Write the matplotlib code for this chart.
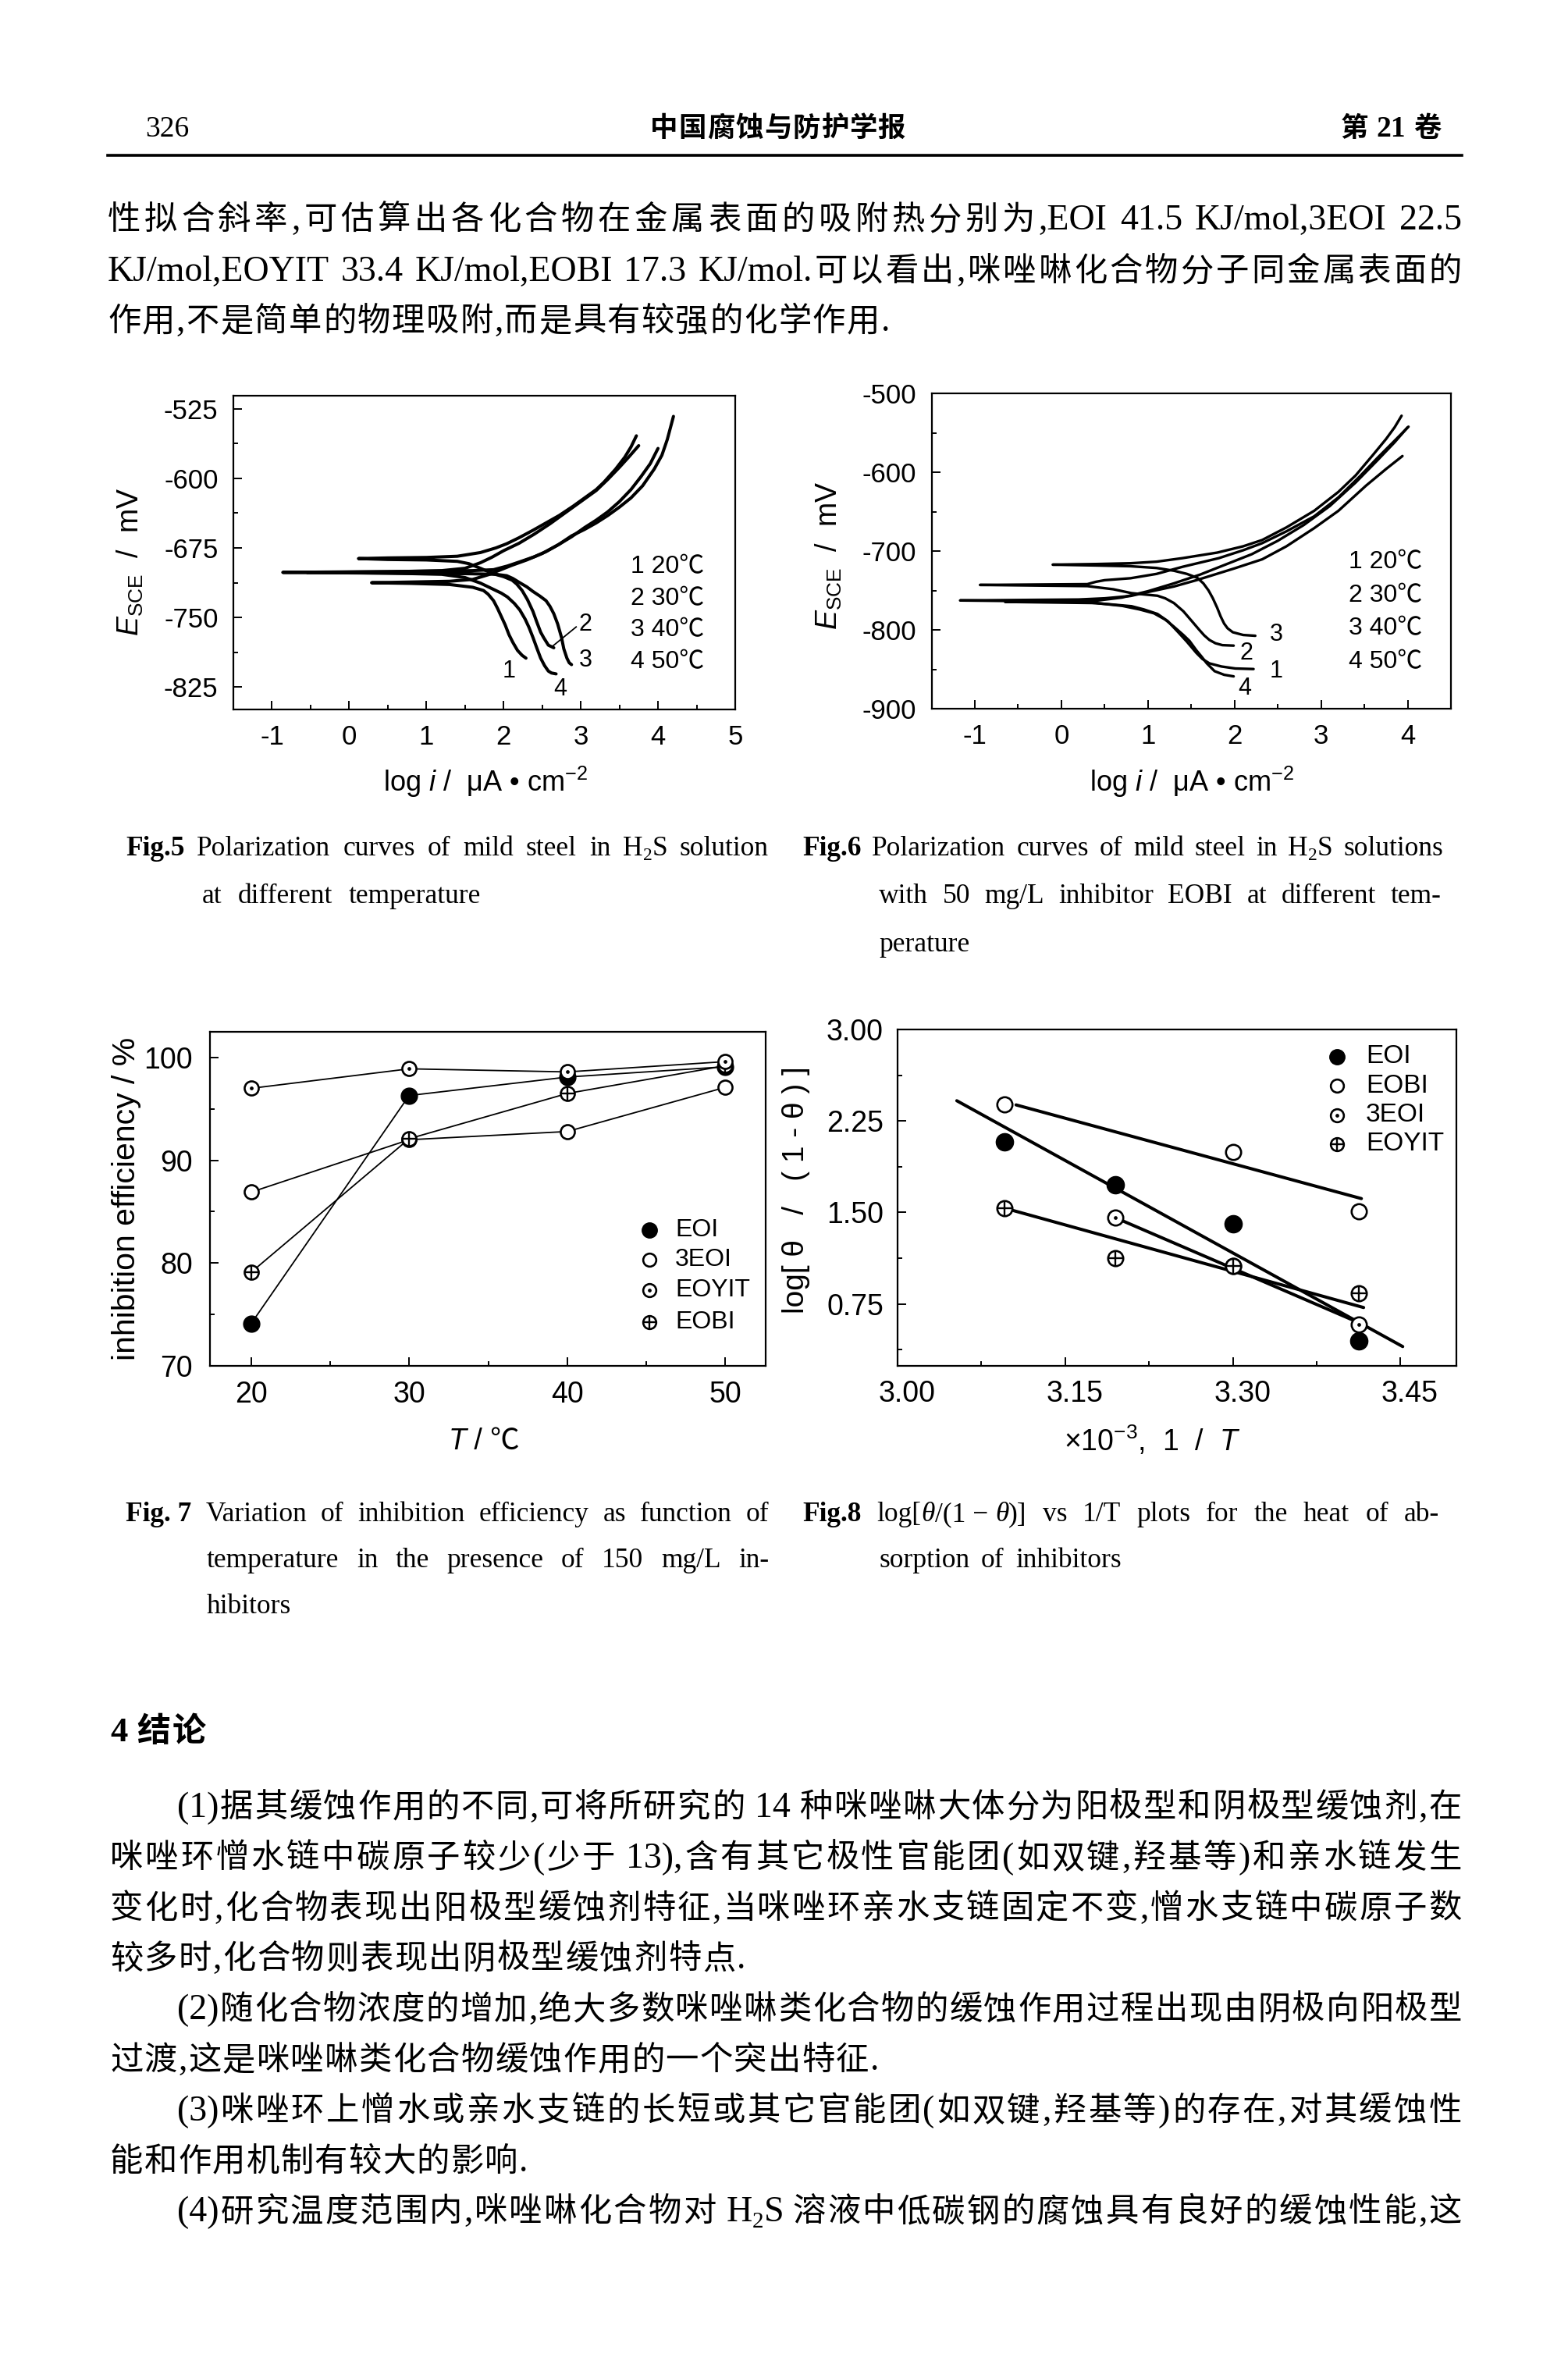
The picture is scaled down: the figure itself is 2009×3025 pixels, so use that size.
import matplotlib
matplotlib.use("Agg")
import matplotlib.pyplot as plt
from matplotlib.font_manager import FontProperties
from matplotlib.ticker import MultipleLocator
from matplotlib.lines import Line2D
import matplotlib.transforms as mtransforms

W, H, DPI = 2009, 3025, 100

# ---------------------------------------------------------------- text data
header_left = "326"
header_center = "中国腐蚀与防护学报"
header_right = "第21卷"
para_lines = [
    "性拟合斜率,可估算出各化合物在金属表面的吸附热分别为,EOI 41.5 KJ/mol,3EOI 22.5",
    "KJ/mol,EOYIT 33.4 KJ/mol,EOBI 17.3 KJ/mol.可以看出,咪唑啉化合物分子同金属表面的",
    "作用,不是简单的物理吸附,而是具有较强的化学作用.",
]
para_right = [1873, 1873, 1140]
cap5 = ["Fig.5 Polarization curves of mild steel in H₂S solution",
        "at different temperature"]
cap6 = ["Fig.6 Polarization curves of mild steel in H₂S solutions",
        "with 50 mg/L inhibitor EOBI at different tem-",
        "perature"]
cap7 = ["Fig.\u00a07 Variation of inhibition efficiency as function of",
        "temperature in the presence of 150 mg/L in-",
        "hibitors"]
cap8 = ["Fig.8 log[θ/(1\u00a0−\u00a0θ)] vs 1/T plots for the heat of ab-",
        "sorption of inhibitors"]
concl_title = "4 结论"
concl_lines = [
    "(1)据其缓蚀作用的不同,可将所研究的 14 种咪唑啉大体分为阳极型和阴极型缓蚀剂,在",
    "咪唑环憎水链中碳原子较少(少于 13),含有其它极性官能团(如双键,羟基等)和亲水链发生",
    "变化时,化合物表现出阳极型缓蚀剂特征,当咪唑环亲水支链固定不变,憎水支链中碳原子数",
    "较多时,化合物则表现出阴极型缓蚀剂特点.",
    "(2)随化合物浓度的增加,绝大多数咪唑啉类化合物的缓蚀作用过程出现由阴极向阳极型",
    "过渡,这是咪唑啉类化合物缓蚀作用的一个突出特征.",
    "(3)咪唑环上憎水或亲水支链的长短或其它官能团(如双键,羟基等)的存在,对其缓蚀性",
    "能和作用机制有较大的影响.",
    "(4)研究温度范围内,咪唑啉化合物对 H₂S 溶液中低碳钢的腐蚀具有良好的缓蚀性能,这",
]
concl_indent = [True, False, False, False, True, False, True, False, True]
concl_right = [1873, 1873, 1873, 955, 1873, 1126, 1873, 676, 1873]

# ---------------------------------------------------------------- Fig.5 data
f5_legend = ["1 20℃", "2 30℃", "3 40℃", "4 50℃"]
f5_xticks = [-1, 0, 1, 2, 3, 4, 5]
f5_yticks = [-525, -600, -675, -750, -825]
f5_x = [
    [2.65, 2.58, 2.52, 2.48, 2.43, 2.38, 2.31, 2.24, 2.17, 2.11, 2.0, 1.87, 1.7, 1.55, 1.4, 1.0, 0.5,
     0.12,
     0.5, 1.0, 1.4, 1.70, 1.9, 2.04, 2.2, 2.38, 2.55, 2.72, 2.9, 3.05, 3.2, 3.3, 3.45, 3.57, 3.65, 3.72],
    [2.88, 2.85, 2.82, 2.78, 2.75, 2.70, 2.65, 2.6, 2.55, 2.47, 2.38, 2.3, 2.21, 2.12, 2.04, 1.9, 1.5, 0.5,
     -0.86,
     0.5, 1.2, 1.6, 1.87, 2.05, 2.21, 2.4, 2.55, 2.72, 2.88, 3.05, 3.2, 3.35, 3.5, 3.65, 3.8, 3.95, 4.05, 4.12, 4.2],
    [2.68, 2.62, 2.58, 2.53, 2.48, 2.43, 2.38, 2.33, 2.28, 2.21, 2.14, 2.05, 1.97, 1.85, 1.7, 1.5, 1.2, 0.5,
     -0.55,
     0.5, 1.2, 1.5, 1.7, 1.85, 2.0, 2.2, 2.4, 2.6, 2.8, 3.0, 3.2, 3.35, 3.5, 3.62, 3.75],
    [2.29, 2.24, 2.18, 2.12, 2.07, 2.02, 1.97, 1.92, 1.87, 1.8, 1.74, 1.6, 1.3, 0.8,
     0.29,
     0.8, 1.3, 1.6, 1.8, 1.95, 2.1, 2.3, 2.5, 2.7, 2.88, 3.05, 3.2, 3.35, 3.5, 3.65, 3.78, 3.9, 4.0],
]
f5_y = [
    [-782.8, -780, -772, -766, -755, -743.5, -731, -721, -714, -709.8, -706, -703, -697, -692, -689.5, -688, -687.5,
     -686.5,
     -685.8, -685.3, -684, -680, -675, -670.5, -664, -656, -648, -640, -630, -621, -612, -604, -590, -577, -566, -554],
    [-801, -799, -794, -784, -771.6, -757, -746, -738, -732, -727, -722, -717, -712.6, -708, -705, -703.5, -702.8, -702.3,
     -701.4,
     -700.5, -700, -699.5, -698.5, -694.5, -690, -684.5, -679, -671, -662, -655, -648, -640, -631, -621, -608, -590, -575, -558, -533],
    [-811, -810, -808, -802, -794, -783, -771.6, -761, -752, -742, -735, -728, -723.8, -719, -713, -707, -703.5, -702.2,
     -701.4,
     -700.8, -699.5, -697, -691, -685, -678, -670, -660, -649, -637, -625, -613, -601, -588, -577, -564.6],
    [-794, -791, -785.6, -777, -768.7, -758, -749, -740, -732, -725, -721, -717.5, -714.5, -713.3,
     -712.6,
     -711.8, -711, -709, -704, -699, -694, -688, -681, -672, -663, -653, -645, -636, -625, -612, -598, -584, -567.6],
]
f5_curve_labels = ["1", "4", "2", "3"]
f5_label_x = [2.07, 2.73, 3.06, 3.06]
f5_label_y = [-808, -827.5, -757.5, -796]
f5_pointer_x = [2.63, 2.94]
f5_pointer_y = [-781.4, -760.3]

# ---------------------------------------------------------------- Fig.6 data
f6_legend = ["1 20℃", "2 30℃", "3 40℃", "4 50℃"]
f6_xticks = [-1, 0, 1, 2, 3, 4]
f6_yticks = [-500, -600, -700, -800, -900]
f6_x = [
    [2.24, 2.1, 1.98, 1.92, 1.88, 1.84, 1.8, 1.75, 1.7, 1.64, 1.57, 1.45, 1.3, 1.1, 0.8, 0.4,
     -0.10,
     0.4, 0.8, 1.1, 1.4, 1.8, 2.1, 2.32, 2.6, 2.92, 3.2, 3.4, 3.6, 3.75, 3.85, 3.93],
    [1.99, 1.86, 1.78, 1.71, 1.65, 1.59, 1.5, 1.41, 1.3, 1.2, 1.11, 0.95, 0.81, 0.6, 0.3,
     -0.94,
     0.3, 0.4, 0.5, 0.8, 1.1, 1.4, 1.82, 2.1, 2.32, 2.6, 2.92, 3.2, 3.45, 3.65, 3.85, 4.01],
    [2.22, 2.01, 1.85, 1.71, 1.63, 1.56, 1.45, 1.35, 1.23, 1.11, 0.95, 0.81, 0.5, 0.2,
     -1.17,
     0.2, 0.5, 0.8, 1.0, 1.3, 1.56, 2.0, 2.32, 2.6, 2.92, 3.2, 3.52, 3.75, 3.94],
    [1.99, 1.88, 1.77, 1.68, 1.62, 1.56, 1.48, 1.41, 1.3, 1.2, 1.07, 0.9, 0.7, 0.4,
     -0.65,
     0.4, 0.7, 1.0, 1.3, 1.6, 1.9, 2.2, 2.5, 2.8, 3.1, 3.4, 3.65, 3.85, 4.0],
]
f6_y = [
    [-807.5, -806.5, -803, -798, -792, -783, -772, -760, -750, -741, -734, -729, -725, -721.5, -719.3, -718.3,
     -717.3,
     -716.5, -715.5, -713.5, -709, -702, -694, -686, -670, -649, -625, -604, -578, -558, -543, -528.4],
    [-820, -819.4, -817, -812.8, -807, -799.6, -788, -776.5, -766, -760, -756.7, -755, -753.4, -748.5, -744.5,
     -743,
     -742, -739, -737, -734.5, -729, -720, -709, -699, -690, -675, -656, -632, -605, -582, -560, -542.3],
    [-849.7, -849, -846.5, -842.5, -837, -829.3, -815, -803, -789, -779.8, -774, -770, -767, -764.3,
     -762.7,
     -761.5, -760, -757, -752, -745, -737, -722, -710.5, -694, -671, -649, -617, -596, -579.5],
    [-859, -857, -852.4, -842.5, -834, -826, -814, -806.6, -796, -787, -779, -774, -769.5, -766,
     -764.5,
     -763, -759, -751, -741, -730, -717, -704, -687, -667, -643, -613, -585, -562, -543],
]
f6_curve_labels = ["3", "2", "1", "4"]
f6_label_x = [2.48, 2.14, 2.48, 2.12]
f6_label_y = [-805.8, -829.6, -852.3, -874]

# ---------------------------------------------------------------- Fig.7 data
f7_T = [20, 30, 40, 50]
f7_EOI = [74.1, 96.3, 98.1, 99.1]
f7_3EOI = [86.9, 92.0, 92.8, 97.1]
f7_EOYIT = [97.0, 98.9, 98.6, 99.6]
f7_EOBI = [79.1, 92.1, 96.5, 99.2]
f7_names = ["EOI", "3EOI", "EOYIT", "EOBI"]
f7_xticks = [20, 30, 40, 50]
f7_yticks = [70, 80, 90, 100]

# ---------------------------------------------------------------- Fig.8 data
f8_x_EOI = [3.096, 3.195, 3.300, 3.413]
f8_y_EOI = [2.080, 1.730, 1.410, 0.445]
f8_x_EOBI = [3.096, 3.300, 3.413]
f8_y_EOBI = [2.387, 1.994, 1.511]
f8_x_3EOI = [3.195, 3.300, 3.413]
f8_y_3EOI = [1.456, 1.063, 0.584]
f8_x_EOYIT = [3.096, 3.195, 3.300, 3.413]
f8_y_EOYIT = [1.536, 1.125, 1.063, 0.835]
f8_fit_x_EOI = [3.053, 3.452]
f8_fit_y_EOI = [2.416, 0.401]
f8_fit_x_EOBI = [3.106, 3.415]
f8_fit_y_EOBI = [2.382, 1.614]
f8_fit_x_3EOI = [3.198, 3.412]
f8_fit_y_3EOI = [1.445, 0.600]
f8_fit_x_EOYIT = [3.100, 3.417]
f8_fit_y_EOYIT = [1.525, 0.721]
f8_names = ["EOI", "EOBI", "3EOI", "EOYIT"]
f8_xticks = [3.00, 3.15, 3.30, 3.45]
f8_xticklabels = ["3.00", "3.15", "3.30", "3.45"]
f8_yticks = [0.75, 1.50, 2.25, 3.00]
f8_yticklabels = ["0.75", "1.50", "2.25", "3.00"]

# ---------------------------------------------------------------- setup
plt.rcParams['font.family'] = ['Liberation Sans', 'Noto Sans CJK SC', 'DejaVu Sans']
plt.rcParams['mathtext.fontset'] = 'custom'
plt.rcParams['mathtext.rm'] = 'Liberation Sans'
plt.rcParams['mathtext.it'] = 'Liberation Sans:italic'
plt.rcParams['mathtext.bf'] = 'Liberation Sans:bold'
plt.rcParams['mathtext.sf'] = 'Liberation Sans'
plt.rcParams['axes.unicode_minus'] = False

fig = plt.figure(figsize=(W / DPI, H / DPI), dpi=DPI)
fig.patch.set_facecolor('white')
renderer = fig.canvas.get_renderer()


def FP(family, size, weight='normal', style='normal'):
    return FontProperties(family=family, size=size, weight=weight, style=style)


def fx(x):
    return x / W


def fy(y):
    return 1 - y / H


def tw(s, prop):
    return renderer.get_text_width_height_descent(s, prop, ismath=False)[0]


def tokenize(text, lat, cjk=None, sub=None, ital=None, sub_dy=8):
    toks = []
    state = {'cur': '', 'space': False}

    def emit(s, prop, kind, dy=0):
        att = False
        if toks and not state['space'] and kind != 'cjk' and toks[-1]['kind'] != 'cjk':
            att = True
        toks.append(dict(s=s, prop=prop, sp=state['space'] and bool(toks), att=att, dy=dy, kind=kind))
        state['space'] = False

    def flush():
        if state['cur']:
            emit(state['cur'], lat, 'lat')
            state['cur'] = ''

    for ch in text:
        if ch == ' ':
            flush()
            state['space'] = True
        elif ch == '\u00a0':
            state['cur'] += ' '
        elif ch == '₂':
            flush()
            emit('2', sub, 'sub', sub_dy)
        elif ch == 'θ' and ital is not None:
            flush()
            emit('θ', ital, 'ital')
        elif ord(ch) < 128 or ch == '−':
            state['cur'] += ch
        else:
            flush()
            emit(ch, cjk, 'cjk')
    flush()
    return toks


def place(toks, x0, base_y, x1=None, gap=0.0):
    widths = [tw(t['s'], t['prop']) for t in toks]
    natural = 0.0
    ngaps = 0
    spw = []
    for i, t in enumerate(toks):
        natural += widths[i]
        s = 0.0
        if i > 0:
            if t['sp']:
                s = tw('x x', t['prop']) - tw('xx', t['prop'])
                natural += s
            if not t['att']:
                ngaps += 1
        spw.append(s)
    if x1 is not None and ngaps > 0:
        gap = (x1 - x0 - natural) / ngaps
    x = x0
    for i, t in enumerate(toks):
        if i > 0:
            x += spw[i]
            if not t['att']:
                x += gap
        fig.text(fx(x), fy(base_y + t['dy']), t['s'], fontproperties=t['prop'],
                 ha='left', va='baseline', color='black')
        x += widths[i]
    return gap


def place_center(runs, xc, base_y):
    ws = [tw(s, p) for s, p in runs]
    x = xc - sum(ws) / 2
    for (s, p), w in zip(runs, ws):
        fig.text(fx(x), fy(base_y), s, fontproperties=p, ha='left', va='baseline')
        x += w


def axes_px(l, t, r, b):
    return fig.add_axes([l / W, 1 - b / H, (r - l) / W, (b - t) / H])


# ---------------------------------------------------------------- fonts
cjk_body = FP('Noto Sans CJK SC', 30.5)
lat_body = FP('Liberation Serif', 33)
sub_body = FP('Liberation Serif', 21)
cjk_head = FP('Noto Sans CJK SC', 25.5, weight='bold')
lat_head = FP('Liberation Serif', 27)
lat_head_b = FP('Liberation Serif', 27, weight='bold')
cap_lat = FP('Liberation Serif', 25.5)
cap_bold = FP('Liberation Serif', 25.5, weight='bold')
cap_it = FP('Liberation Serif', 25.5, style='italic')
cap_sub = FP('Liberation Serif', 17)

# ---------------------------------------------------------------- header
place(tokenize(header_left, lat_head), 186, 175)
place(tokenize(header_center, lat_head, cjk_head), 833, 175, x1=1160)
place(tokenize(header_right, lat_head_b, cjk_head), 1718, 175, x1=1846)
fig.add_artist(Line2D([fx(138), fx(1873)], [fy(199), fy(199)], lw=2.6, color='black'))

# ---------------------------------------------------------------- paragraph
para_centers = [278, 344, 408]
for i, line in enumerate(para_lines):
    toks = tokenize(line, lat_body, cjk_body, sub_body)
    place(toks, 138, para_centers[i] + 16, x1=para_right[i])


# ---------------------------------------------------------------- captions
def caption(lines, x0, x_indent, rights, centers, nbold):
    for i, line in enumerate(lines):
        toks = tokenize(line, cap_lat, None, cap_sub, cap_it, sub_dy=6)
        if i == 0:
            for k in range(nbold):
                toks[k]['prop'] = cap_bold
        xs = x0 if i == 0 else x_indent
        place(toks, xs, centers[i] + 9, x1=rights[i], gap=5)


caption(cap5, 161, 259, [985, 616], [1087, 1148], 1)
caption(cap6, 1028, 1126, [1849, 1846, None], [1087, 1148, 1210], 1)
caption(cap7, 161, 265, [985, 985, None], [1940, 1999, 2058], 1)
caption(cap8, 1028, 1126, [1844, 1437], [1940, 1999], 1)

# ---------------------------------------------------------------- conclusions
place(tokenize(concl_title, FP('Liberation Serif', 32, weight='bold'),
               FP('Noto Sans CJK SC', 31, weight='bold')), 141, 2215 + 16, gap=2)
concl_centers = [2312 + i * 64.8 for i in range(len(concl_lines))]
for i, line in enumerate(concl_lines):
    toks = tokenize(line, lat_body, cjk_body, sub_body)
    x0 = 227 if concl_indent[i] else 141
    place(toks, x0, concl_centers[i] + 16, x1=concl_right[i])


# ---------------------------------------------------------------- axes helpers
def style_axes(ax, lsize, xpad, ypad, spw=1.6):
    for s in ax.spines.values():
        s.set_linewidth(spw)
        s.set_color('black')
    ax.tick_params(which='both', direction='in', top=False, right=False, width=1.4, color='black')
    ax.tick_params(which='major', length=8, labelsize=lsize)
    ax.tick_params(which='minor', length=4.5)
    ax.tick_params(axis='x', which='major', pad=xpad)
    ax.tick_params(axis='y', which='major', pad=ypad)


def marks(ax, xs, ys, kind, ms, z, **kw):
    if kind == 'filled':
        ax.plot(xs, ys, ls='none', marker='o', ms=ms + 2, mfc='black', mec='black', zorder=z, **kw)
        return
    ax.plot(xs, ys, ls='none', marker='o', ms=ms, mfc='white', mec='black', mew=1.9, zorder=z, **kw)
    if kind == 'dot':
        ax.plot(xs, ys, ls='none', marker='o', ms=2.4, mfc='black', mec='black', zorder=z + 0.1, **kw)
    elif kind == 'plus':
        ax.plot(xs, ys, ls='none', marker='+', ms=ms, mew=1.7, color='black', zorder=z + 0.1, **kw)


leg_font = FP(['Liberation Sans', 'Noto Sans CJK SC'], 23)

# ---------------------------------------------------------------- Fig.5
ax5 = axes_px(299, 507, 942, 909)
for xs, ys in zip(f5_x, f5_y):
    ax5.plot(xs, ys, color='black', lw=2.9, solid_capstyle='round', solid_joinstyle='round')
ax5.plot(f5_pointer_x, f5_pointer_y, color='black', lw=1.3)
for s, x, y in zip(f5_curve_labels, f5_label_x, f5_label_y):
    ax5.text(x, y, s, fontsize=22, ha='center', va='center')
ax5.set_xlim(-1.5, 5.0)
ax5.set_ylim(-849.4, -510.7)
ax5.set_xticks(f5_xticks, [str(v) for v in f5_xticks])
ax5.set_yticks(f5_yticks, [str(v) for v in f5_yticks])
ax5.xaxis.set_minor_locator(MultipleLocator(0.5))
ax5.yaxis.set_minor_locator(MultipleLocator(37.5))
style_axes(ax5, 25, 14, 14)
for i, s in enumerate(f5_legend):
    fig.text(fx(808), fy(726 + i * 40.7), s, fontproperties=leg_font, ha='left', va='center')
fig.text(fx(167), fy(720), r'$E_{\mathrm{SCE}}$  /  mV', rotation=90, ha='center', va='center', fontsize=27)
fig.text(fx(622), fy(1002), r'log $i$ /  μA • cm$^{-2}$', ha='center', va='center', fontsize=26)

# ---------------------------------------------------------------- Fig.6
ax6 = axes_px(1193.5, 504, 1859, 908)
for xs, ys in zip(f6_x, f6_y):
    ax6.plot(xs, ys, color='black', lw=2.4, solid_capstyle='round', solid_joinstyle='round')
for s, x, y in zip(f6_curve_labels, f6_label_x, f6_label_y):
    ax6.text(x, y, s, fontsize=22, ha='center', va='center')
ax6.set_xlim(-1.5, 4.5)
ax6.set_ylim(-900, -500)
ax6.set_xticks(f6_xticks, [str(v) for v in f6_xticks])
ax6.set_yticks(f6_yticks, [str(v) for v in f6_yticks])
ax6.xaxis.set_minor_locator(MultipleLocator(0.5))
ax6.yaxis.set_minor_locator(MultipleLocator(50))
style_axes(ax6, 25, 14, 14)
for i, s in enumerate(f6_legend):
    fig.text(fx(1728), fy(720 + i * 42.7), s, fontproperties=leg_font, ha='left', va='center')
fig.text(fx(1062), fy(712), r'$E_{\mathrm{SCE}}$  /  mV', rotation=90, ha='center', va='center', fontsize=27)
fig.text(fx(1527), fy(1002), r'log $i$ /  μA • cm$^{-2}$', ha='center', va='center', fontsize=26)

# ---------------------------------------------------------------- Fig.7
ax7 = axes_px(269, 1322, 981, 1750)
f7_series = [f7_EOI, f7_3EOI, f7_EOBI, f7_EOYIT]
f7_kinds = {'EOI': 'filled', '3EOI': 'open', 'EOYIT': 'dot', 'EOBI': 'plus'}
for ys in f7_series:
    ax7.plot(f7_T, ys, color='black', lw=1.3, zorder=2)
marks(ax7, f7_T, f7_EOI, 'filled', 13, 3)
marks(ax7, f7_T, f7_3EOI, 'open', 13, 4)
marks(ax7, f7_T, f7_EOBI, 'plus', 13, 5)
marks(ax7, f7_T, f7_EOYIT, 'dot', 13, 6)
ax7.set_xlim(17.4, 52.55)
ax7.set_ylim(70, 102.5)
ax7.set_xticks(f7_xticks, [str(v) for v in f7_xticks])
ax7.set_yticks(f7_yticks, [str(v) for v in f7_yticks])
ax7.xaxis.set_minor_locator(MultipleLocator(5))
ax7.yaxis.set_minor_locator(MultipleLocator(5))
style_axes(ax7, 27, 14, 16)
leg7_y = [1576, 1614, 1653, 1694]
for name, yy in zip(f7_names, leg7_y):
    xa = (832 - 269) / (981 - 269)
    ya = (1750 - yy) / (1750 - 1322)
    marks(ax7, [xa], [ya], f7_kinds[name], 12, 7, transform=ax7.transAxes, clip_on=False)
    fig.text(fx(865), fy(yy), name, fontsize=23, ha='left', va='center')
fig.text(fx(162), fy(1536), 'inhibition efficiency / %', rotation=90, ha='center', va='center', fontsize=29.5)
place_center([('T', FP('Liberation Sans', 27, style='italic')),
              (' / ℃', FP(['Liberation Sans', 'Noto Sans CJK SC'], 27))], 620, 1857)

# ---------------------------------------------------------------- Fig.8
ax8 = axes_px(1150, 1319, 1866, 1750)
for fxs, fys in [(f8_fit_x_EOI, f8_fit_y_EOI), (f8_fit_x_EOBI, f8_fit_y_EOBI),
                 (f8_fit_x_3EOI, f8_fit_y_3EOI), (f8_fit_x_EOYIT, f8_fit_y_EOYIT)]:
    ax8.plot(fxs, fys, color='black', lw=2.9, solid_capstyle='round', zorder=2)
marks(ax8, f8_x_EOI, f8_y_EOI, 'filled', 14, 3)
marks(ax8, f8_x_EOBI, f8_y_EOBI, 'open', 14, 4)
marks(ax8, f8_x_3EOI, f8_y_3EOI, 'dot', 14, 5)
marks(ax8, f8_x_EOYIT, f8_y_EOYIT, 'plus', 14, 6)
ax8.set_xlim(3.0, 3.5)
ax8.set_ylim(0.243, 3.0)
ax8.set_xticks(f8_xticks, f8_xticklabels)
ax8.set_yticks(f8_yticks, f8_yticklabels)
ax8.xaxis.set_minor_locator(MultipleLocator(0.075))
ax8.yaxis.set_minor_locator(MultipleLocator(0.375))
style_axes(ax8, 27, 13, 13)
shift = mtransforms.ScaledTranslation(12 / DPI, 0, fig.dpi_scale_trans)
for lab in ax8.get_xticklabels():
    lab.set_transform(lab.get_transform() + shift)
f8_kinds = {'EOI': 'filled', 'EOBI': 'open', '3EOI': 'dot', 'EOYIT': 'plus'}
leg8_y = [1353.6, 1391, 1428.6, 1466]
for name, yy in zip(f8_names, leg8_y):
    xa = (1713 - 1150) / (1866 - 1150)
    ya = (1750 - yy) / (1750 - 1319)
    marks(ax8, [xa], [ya], f8_kinds[name], 12, 7, transform=ax8.transAxes, clip_on=False)
    fig.text(fx(1750), fy(yy), name, fontsize=24, ha='left', va='center')
fig.text(fx(1020), fy(1525), 'log[ θ   /   ( 1 - θ ) ]', rotation=90, ha='center', va='center', fontsize=28)
fig.text(fx(1476), fy(1846), r'×10$^{-3}$,  1  /  $T$', ha='center', va='center', fontsize=27)

fig.savefig('out.png', dpi=DPI, facecolor='white')
